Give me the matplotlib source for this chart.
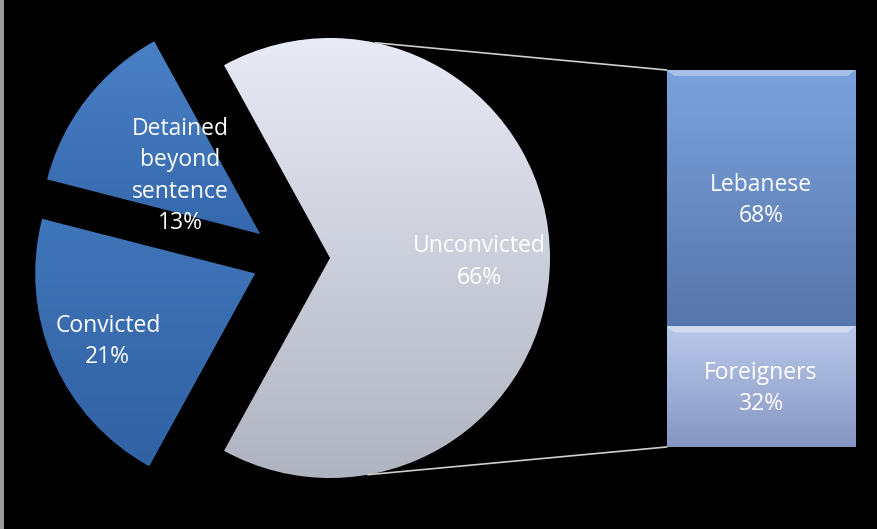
import numpy as np
import matplotlib
matplotlib.use("Agg")
import matplotlib.pyplot as plt
from matplotlib.colors import LinearSegmentedColormap
from matplotlib.patches import Rectangle

# pie: share of detainees by legal status
pie_labels = ["Unconvicted", "Detained\nbeyond\nsentence", "Convicted"]
pie_values = [66, 13, 21]

# bar: breakdown of the unconvicted slice
bar_labels = ["Lebanese", "Foreigners"]
bar_values = [68, 32]

W, H = 877, 529
plt.rcParams["font.family"] = ["Open Sans", "DejaVu Sans"]


def fill_gradient(ax, patch, top, bottom):
    # paint a vertical gradient clipped to the patch
    patch.set_facecolor("none")
    bb = patch.get_path().transformed(patch.get_patch_transform()).get_extents() \
        if isinstance(patch, Rectangle) else patch.get_path().get_extents()
    cmap = LinearSegmentedColormap.from_list("g", [bottom, top])
    grad = np.linspace(0, 1, 256).reshape(-1, 1)
    im = ax.imshow(grad, cmap=cmap, origin="lower", aspect="auto",
                   extent=[bb.x0, bb.x1, bb.y0, bb.y1], zorder=patch.get_zorder())
    im.set_clip_path(patch)


fig = plt.figure(figsize=(W / 100, H / 100), dpi=100, facecolor="black")
ax = fig.add_axes([0, 0, 1, 1])
ax.set_facecolor("black")

radius = 220
wedges, _ = ax.pie(pie_values, radius=radius, center=(291, 271),
                   startangle=-pie_values[0] / 100 * 180,
                   explode=[39, 39, 39], frame=True,
                   wedgeprops=dict(linewidth=0))

pie_colors = [("#e8ebf6", "#b0b4c0"), ("#4a80c6", "#3568ac"), ("#3f75b9", "#3162a4")]
label_dist = [0.68, 0.46, 0.73]
for w, (top, bottom), lab, val, d in zip(wedges, pie_colors, pie_labels,
                                          pie_values, label_dist):
    fill_gradient(ax, w, top, bottom)
    mid = np.deg2rad((w.theta1 + w.theta2) / 2)
    cx, cy = w.center
    ax.text(cx + d * radius * np.cos(mid), cy + d * radius * np.sin(mid) - 4,
            "%s\n%d%%" % (lab, val), color="white", fontsize=16.5,
            ha="center", va="center", linespacing=1.4, zorder=5)

# stacked bar for the unconvicted slice
bar_x, bar_w = 761, 189
bar_bottom, bar_total = 82, 377
bar_colors = [("#7ca2de", "#5776aa"), ("#bac9ea", "#8696c2")]
heights = [v / 100 * bar_total for v in bar_values]
bottoms = [bar_bottom + sum(heights[i + 1:]) for i in range(len(heights))]
bars = ax.bar([bar_x] * 2, heights, bottom=bottoms, width=bar_w, linewidth=0)
for b, (top, bottom), lab, val in zip(bars, bar_colors, bar_labels, bar_values):
    fill_gradient(ax, b, top, bottom)
    x0, y0 = b.get_x(), b.get_y()
    # light bevel along the top edge
    ax.fill([x0, x0 + bar_w, x0 + bar_w - 8, x0 + 8],
            [y0 + b.get_height()] * 2 + [y0 + b.get_height() - 6] * 2,
            color="white", alpha=0.35, lw=0, zorder=3)
    ax.text(bar_x, y0 + b.get_height() / 2 - 2,
            "%s\n%d%%" % (lab, val), color="white", fontsize=16.5,
            ha="center", va="center", linespacing=1.4, zorder=5)

# connector lines from the big slice to the bar
cx, cy = wedges[0].center
top_pt = (cx + radius * np.cos(np.deg2rad(78)), cy + radius * np.sin(np.deg2rad(78)))
bot_pt = (cx + radius * np.cos(np.deg2rad(-80)), cy + radius * np.sin(np.deg2rad(-80)))
bar_left = bar_x - bar_w / 2
ax.plot([top_pt[0], bar_left], [top_pt[1], bar_bottom + bar_total],
        color="#cfcfcf", lw=1.2, zorder=2)
ax.plot([bot_pt[0], bar_left], [bot_pt[1], bar_bottom],
        color="#cfcfcf", lw=1.2, zorder=2)

ax.set_xlim(0, W)
ax.set_ylim(0, H)
ax.axis("off")

# screenshot edge on the left
fig.patches.append(Rectangle((0, 0), 4 / W, 1, transform=fig.transFigure,
                             facecolor="#9a9a9a", edgecolor="none"))

fig.savefig("out.png", dpi=100, facecolor="black")
